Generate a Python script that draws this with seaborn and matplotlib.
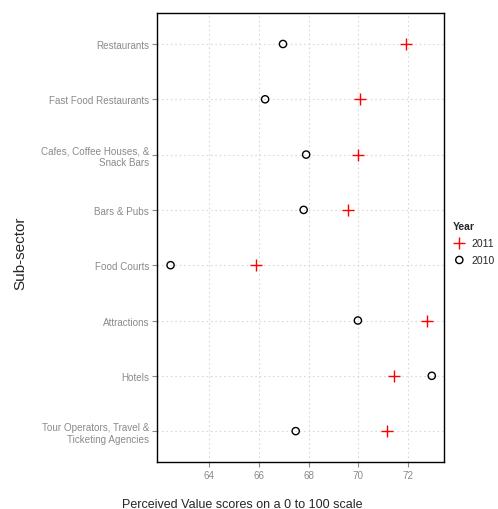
import pandas as pd
import matplotlib
matplotlib.use("Agg")
import matplotlib.pyplot as plt
import seaborn as sns

# Perceived value scores by sub-sector
sub_sectors = [
    "Restaurants",
    "Fast Food Restaurants",
    "Cafes, Coffee Houses, &\nSnack Bars",
    "Bars & Pubs",
    "Food Courts",
    "Attractions",
    "Hotels",
    "Tour Operators, Travel &\nTicketing Agencies",
]
scores_2011 = [71.9, 70.07, 69.98, 69.6, 65.9, 72.75, 71.45, 71.15]
scores_2010 = [66.97, 66.25, 67.9, 67.8, 62.45, 69.98, 72.95, 67.48]
x_ticks = [64, 66, 68, 70, 72]

df = pd.DataFrame({
    "sector": sub_sectors * 2,
    "score": scores_2011 + scores_2010,
    "year": ["2011"] * len(sub_sectors) + ["2010"] * len(sub_sectors),
})

sns.set_style("white")
plt.rcParams["font.family"] = ["Liberation Sans", "DejaVu Sans"]

fig = plt.figure(figsize=(4.98, 5.10), dpi=100)
ax = fig.add_axes([0.315, 0.092, 0.577, 0.8805])

sns.stripplot(data=df[df.year == "2011"], x="score", y="sector", order=sub_sectors,
              jitter=False, marker="+", color="red", size=8.5, linewidth=1.0,
              label="2011", ax=ax)
n_before = len(ax.collections)
sns.stripplot(data=df[df.year == "2010"], x="score", y="sector", order=sub_sectors,
              jitter=False, marker="o", color="black", size=5.2, linewidth=1.0,
              label="2010", ax=ax)
# hollow circles for 2010
for c in ax.collections[n_before:]:
    c.set_facecolor("none")
    c.set_edgecolor("black")

ax.set_xlim(61.9, 73.45)
ax.set_ylim(len(sub_sectors) - 0.44, -0.56)
ax.set_xticks(x_ticks)
ax.grid(True, color="#d9d9d9", linestyle=(0, (1.5, 2.5)), linewidth=0.8)
ax.set_axisbelow(True)
for s in ax.spines.values():
    s.set_color("black")
    s.set_linewidth(1.0)
ax.tick_params(axis="both", colors="#8a8a8a", labelsize=7.1, length=3.5, width=0.8,
               direction="out", bottom=True, left=True, pad=2)
ax.set_xlabel("Perceived Value scores on a 0 to 100 scale", fontsize=9, labelpad=13)
ax.set_ylabel("Sub-sector", fontsize=11, labelpad=10)
ax.xaxis.label.set_x(0.298)
ax.yaxis.label.set_y(0.467)

handles, labels = ax.get_legend_handles_labels()
leg = ax.legend(handles[:1] + handles[-1:], ["2011", "2010"], title="Year",
                loc="center left", bbox_to_anchor=(1.0, 0.488), frameon=False,
                fontsize=7.5, title_fontsize=7.5, handletextpad=0.5, handlelength=1.3,
                labelspacing=0.65, borderaxespad=0.4, alignment="left")
leg.get_title().set_fontweight("bold")
for h in leg.legend_handles[1:]:
    h.set_facecolor("none")
    h.set_edgecolor("black")

fig.savefig("out.png", dpi=100)
